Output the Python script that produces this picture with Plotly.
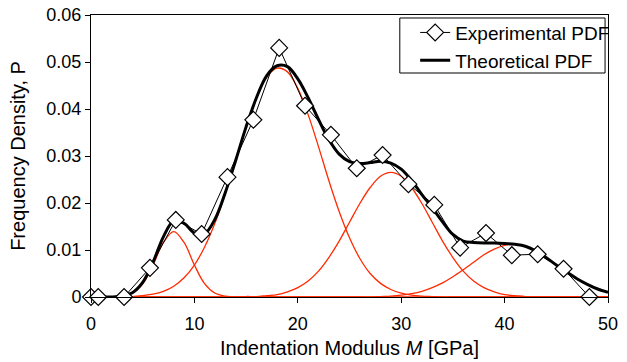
import plotly.graph_objects as go

# ---- data ----
exp_x = [0, 0.7, 3.2, 5.7, 8.2, 10.7, 13.2, 15.7, 18.2, 20.7, 23.2, 25.7,
         28.2, 30.7, 33.2, 35.7, 38.2, 40.7, 43.2, 45.7, 48.2]
exp_y = [0, 0, 0, 0.0062, 0.0164, 0.0134, 0.0255, 0.0377, 0.0530, 0.0407,
         0.0345, 0.0274, 0.0302, 0.0240, 0.0196, 0.0105, 0.0136, 0.0089,
         0.0091, 0.0060, 0]

grid_x = list(range(0, 51))

theo_y = [0, 0, 0, 0.0002, 0.0009, 0.0031, 0.0074, 0.0128, 0.0162, 0.0157,
          0.0136, 0.0135, 0.0166, 0.0223, 0.0291, 0.0362, 0.0424, 0.0471,
          0.0492, 0.0490, 0.0464, 0.0424, 0.0378, 0.0335, 0.0304, 0.0288,
          0.0284, 0.0286, 0.0289, 0.0285, 0.0272, 0.0248, 0.0218, 0.0190,
          0.0160, 0.0133, 0.0119, 0.0116, 0.0115, 0.0115, 0.0114, 0.0112,
          0.0108, 0.0098, 0.0084, 0.0068, 0.0053, 0.0039, 0.0027, 0.0017,
          0.0010]

comp1_y = [0, 0, 0, 0.0002, 0.0008, 0.0028, 0.0068, 0.0116, 0.0139, 0.0116,
           0.0068, 0.0028, 0.0008, 0.0002, 0, 0, 0, 0, 0, 0, 0, 0, 0, 0, 0,
           0, 0, 0, 0, 0, 0, 0, 0, 0, 0, 0, 0, 0, 0, 0, 0, 0, 0, 0, 0, 0,
           0, 0, 0, 0, 0]

comp2_y = [0, 0, 0, 0.0001, 0.0001, 0.0003, 0.0006, 0.0012, 0.0023, 0.0041,
           0.0068, 0.0107, 0.0158, 0.0221, 0.0291, 0.0361, 0.0423, 0.0468,
           0.0487, 0.0479, 0.0444, 0.0388, 0.0320, 0.0248, 0.0182, 0.0126,
           0.0082, 0.0050, 0.0029, 0.0016, 0.0008, 0.0004, 0.0002, 0.0001,
           0, 0, 0, 0, 0, 0, 0, 0, 0, 0, 0, 0, 0, 0, 0, 0, 0]

comp3_y = [0, 0, 0, 0, 0, 0, 0, 0, 0, 0, 0, 0, 0, 0, 0, 0.0001, 0.0001,
           0.0003, 0.0005, 0.0011, 0.0020, 0.0034, 0.0055, 0.0084, 0.0119,
           0.0159, 0.0199, 0.0233, 0.0257, 0.0265, 0.0257, 0.0233, 0.0199,
           0.0159, 0.0119, 0.0084, 0.0055, 0.0034, 0.0020, 0.0011, 0.0005,
           0.0003, 0.0001, 0, 0, 0, 0, 0, 0, 0, 0]

comp4_y = [0, 0, 0, 0, 0, 0, 0, 0, 0, 0, 0, 0, 0, 0, 0, 0, 0, 0, 0, 0, 0,
           0, 0, 0, 0, 0, 0, 0, 0.0001, 0.0002, 0.0004, 0.0007, 0.0012,
           0.0020, 0.0030, 0.0043, 0.0058, 0.0074, 0.0090, 0.0102, 0.0110,
           0.0112, 0.0108, 0.0098, 0.0084, 0.0068, 0.0052, 0.0038, 0.0026,
           0.0017, 0.0010]

x_ticks = [0, 10, 20, 30, 40, 50]
y_ticks = [0, 0.01, 0.02, 0.03, 0.04, 0.05, 0.06]
y_tick_labels = ["0", "0.01", "0.02", "0.03", "0.04", "0.05", "0.06"]

FONT = "Liberation Sans, Arial, Helvetica, sans-serif"
RED = "#ff2a00"

fig = go.Figure()
for comp in (comp1_y, comp2_y, comp3_y, comp4_y):
    fig.add_trace(go.Scatter(x=grid_x, y=comp, mode="lines",
                             line=dict(color=RED, width=1.3, shape="spline"),
                             showlegend=False, hoverinfo="skip"))

fig.add_trace(go.Scatter(x=grid_x, y=theo_y, mode="lines",
                         name="Theoretical PDF", legendrank=2,
                         line=dict(color="black", width=3, shape="spline")))
fig.add_trace(go.Scatter(x=exp_x, y=exp_y, mode="lines+markers",
                         name="Experimental PDF", legendrank=1,
                         line=dict(color="black", width=1),
                         marker=dict(symbol="diamond", size=13, color="white",
                                     line=dict(color="black", width=1.2)),
                         cliponaxis=False))

# legend frame
fig.add_shape(type="rect", xref="paper", yref="paper",
              x0=0.5973, x1=0.9943, y0=0.7943, y1=0.9894,
              line=dict(color="black", width=1), fillcolor="white",
              layer="above")

fig.update_layout(
    width=627, height=362,
    margin=dict(l=91, r=12, t=15, b=65),
    paper_bgcolor="white", plot_bgcolor="white",
    font=dict(family=FONT, size=18, color="black"),
    showlegend=True,
    legend=dict(x=0.627, y=1.005, xanchor="left", yanchor="top",
                bgcolor="rgba(0,0,0,0)", borderwidth=0,
                font=dict(size=19), tracegroupgap=0),
)
fig.update_xaxes(range=[0, 50], tickvals=x_ticks, ticks="outside", ticklen=5,
                 tickcolor="black", showline=True, linecolor="black",
                 linewidth=1, mirror=True, showgrid=False, zeroline=False,
                 automargin=False, ticklabelstandoff=5,
                 tickfont=dict(size=18),
                 title=dict(text="Indentation Modulus <i>M</i> [GPa]",
                            font=dict(size=20), standoff=8))
fig.update_yaxes(range=[0, 0.06], tickvals=y_ticks, ticktext=y_tick_labels,
                 ticks="outside", ticklen=5, tickcolor="black",
                 showline=True, linecolor="black", linewidth=1, mirror=True,
                 showgrid=False, zeroline=False, automargin=False,
                 tickfont=dict(size=18),
                 title=dict(text="Frequency Density, P", font=dict(size=20),
                            standoff=15))

fig.write_html("out.html",
               config={"displayModeBar": False},
               post_script="document.body.style.margin='0';")
